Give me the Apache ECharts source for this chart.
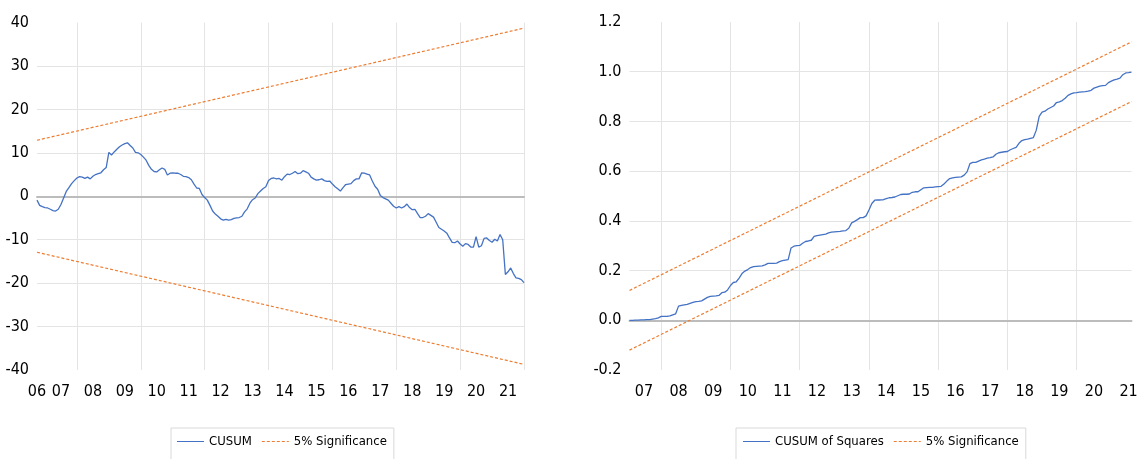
<!DOCTYPE html>
<html><head><meta charset="utf-8">
<script src="https://cdn.jsdelivr.net/npm/echarts@6/dist/echarts.min.js"></script>
<style>html,body{margin:0;padding:0;background:#fff}#c{width:1141px;height:459px}</style>
</head><body><div id="c"></div>
<script>
// ---- data ----
const cusumStart = [2006, 4];   // first month of CUSUM sample
const cusumsqStart = [2006, 8]; // first month of CUSUM of Squares sample
const cusum = [-0.9,-2.1,-2.4,-2.6,-2.7,-3.0,-3.3,-3.4,-3.0,-1.9,-0.4,1.1,2.0,2.9,3.6,4.2,4.5,4.4,4.1,4.4,4.0,4.6,5.0,5.2,5.4,6.1,6.6,10.1,9.5,10.2,10.8,11.4,11.8,12.1,12.3,11.7,11.1,10.1,10.0,9.6,9.0,8.3,7.1,6.2,5.7,5.6,6.1,6.5,6.2,4.9,5.3,5.4,5.3,5.3,5.0,4.6,4.5,4.3,3.8,2.8,1.9,1.8,0.4,-0.3,-0.9,-2.1,-3.4,-4.1,-4.6,-5.2,-5.5,-5.3,-5.5,-5.4,-5.1,-5.0,-4.9,-4.6,-3.6,-2.9,-1.6,-0.8,-0.4,0.6,1.2,1.8,2.2,3.6,4.1,4.2,4.0,4.1,3.7,4.5,5.1,5.0,5.3,5.7,5.2,5.3,5.9,5.6,5.3,4.4,4.0,3.7,3.8,4.0,3.6,3.4,3.5,2.8,2.2,1.7,1.2,2.0,2.7,2.8,2.9,3.6,4.0,4.0,5.4,5.3,5.1,4.9,3.5,2.3,1.6,0.2,-0.3,-0.6,-0.9,-1.6,-2.3,-2.7,-2.4,-2.7,-2.4,-1.8,-2.6,-3.1,-3.0,-4.0,-4.9,-4.9,-4.6,-4.0,-4.4,-4.8,-6.0,-7.2,-7.6,-8.0,-8.5,-9.6,-10.6,-10.7,-10.3,-11.0,-11.5,-10.9,-11.1,-11.7,-11.7,-9.3,-11.7,-11.4,-9.7,-9.6,-10.2,-10.6,-9.9,-10.3,-8.8,-10.0,-18.0,-17.4,-16.5,-17.8,-18.8,-18.9,-19.2,-19.9];
const cusumBound = [12.9, 38.7]; // 5% significance at first and last observation (+/-)
const cusumsq = [0.000,0.000,0.001,0.001,0.002,0.002,0.003,0.003,0.005,0.007,0.010,0.016,0.016,0.016,0.018,0.022,0.026,0.057,0.060,0.062,0.064,0.068,0.072,0.075,0.076,0.078,0.085,0.092,0.096,0.097,0.098,0.100,0.111,0.113,0.122,0.140,0.152,0.155,0.170,0.188,0.198,0.204,0.212,0.216,0.217,0.218,0.219,0.223,0.229,0.229,0.229,0.230,0.236,0.240,0.242,0.244,0.291,0.298,0.300,0.301,0.310,0.317,0.319,0.322,0.338,0.341,0.343,0.345,0.347,0.352,0.355,0.356,0.357,0.358,0.360,0.361,0.370,0.392,0.398,0.405,0.413,0.413,0.420,0.444,0.470,0.483,0.484,0.484,0.485,0.489,0.493,0.494,0.496,0.501,0.506,0.507,0.507,0.508,0.515,0.517,0.517,0.525,0.533,0.534,0.535,0.535,0.537,0.538,0.539,0.548,0.560,0.570,0.573,0.575,0.576,0.577,0.584,0.597,0.630,0.635,0.635,0.640,0.645,0.648,0.652,0.654,0.657,0.668,0.674,0.676,0.678,0.679,0.686,0.691,0.696,0.712,0.723,0.727,0.729,0.732,0.735,0.765,0.820,0.837,0.841,0.850,0.856,0.862,0.876,0.879,0.884,0.893,0.905,0.911,0.915,0.916,0.918,0.919,0.920,0.922,0.925,0.934,0.938,0.942,0.944,0.945,0.956,0.962,0.967,0.970,0.974,0.988,0.995,0.996,0.998];
const sqUpper = [0.12, 1.12];
const sqLower = [-0.12, 0.88];
const leftYTicks = {min: -40, max: 40, interval: 10};
const rightYTicks = {min: -0.2, max: 1.2, interval: 0.2};
const legendLeft = ['CUSUM', '5% Significance'];
const legendRight = ['CUSUM of Squares', '5% Significance'];

// ---- categories (months) ----
function months(start, n) {
  const out = []; let y = start[0], m = start[1];
  for (let i = 0; i < n; i++) {
    out.push(y + '-' + (m < 10 ? '0' + m : m));
    m++; if (m > 12) { m = 1; y++; }
  }
  return out;
}
const catL = months(cusumStart, cusum.length);
const catR = months(cusumsqStart, cusumsq.length);
const yy = v => v.slice(2, 4);
const isJan = v => v.slice(5) === '01';
const isGrid = v => v.slice(5) === '07' && (+v.slice(0, 4)) % 2 === 1;

// ---- font pick (narrow face if present) ----
function hasFont(f) {
  const c = document.createElement('canvas').getContext('2d');
  const s = 'mmmmllliiWW 0123456789';
  c.font = '72px monospace'; const a = c.measureText(s).width;
  c.font = "72px '" + f + "', monospace"; return c.measureText(s).width !== a;
}
let FONT, AX_FS, LG_FS;
if (hasFont('Liberation Sans Narrow')) { FONT = "'Liberation Sans Narrow'"; AX_FS = 18; LG_FS = 15; }
else { FONT = "'DejaVu Sans Condensed','DejaVu Sans',sans-serif"; AX_FS = 16; LG_FS = 13; }

const BLUE = '#4472c4', ORANGE = '#ed7d31', GRID = '#e4e4e4', ZERO = '#bcbcbc';
const ICON_SOLID = 'path://M0,0H27V1H0Z';
const ICON_DASH = 'path://M0,0h3v1h-3z M5,0h3v1h-3z M10,0h3v1h-3z M15,0h3v1h-3z M20,0h3v1h-3z M25,0h2v1h-2z';

function xMain(gi, cats, showFirst) {
  return {
    type: 'category', gridIndex: gi, data: cats, boundaryGap: false,
    axisLine: {show: false, onZero: false}, axisTick: {show: false},
    axisLabel: {
      margin: 14, color: '#000', fontSize: AX_FS, fontFamily: FONT,
      interval: (i, v) => isJan(v) || (showFirst && i === 0),
      formatter: v => yy(v), hideOverlap: false
    },
    splitLine: {show: true, interval: (i, v) => isGrid(v), lineStyle: {color: GRID, width: 1}}
  };
}
function xZero(gi, cats) {
  return {
    type: 'category', gridIndex: gi, data: cats, boundaryGap: false, position: 'top',
    axisLine: {show: true, onZero: true, lineStyle: {color: ZERO, width: 2}},
    axisTick: {show: false}, axisLabel: {show: false}, splitLine: {show: false}
  };
}
function yAx(gi, t, n, fmt) {
  const cols = [];
  for (let i = 0; i < n; i++) cols.push(i === 0 || i === n - 1 ? 'rgba(0,0,0,0)' : GRID);
  return {
    type: 'value', gridIndex: gi, min: t.min, max: t.max, interval: t.interval,
    axisLine: {show: false}, axisTick: {show: false},
    axisLabel: {margin: 8, color: '#000', fontSize: AX_FS, fontFamily: FONT, formatter: fmt},
    splitLine: {show: true, lineStyle: {color: cols, width: 1}}
  };
}
function legendBox(left, names, padLeft) {
  return {
    left: left, top: 428, itemWidth: 27, itemHeight: 1.4, itemGap: 10,
    padding: [7, 7, 16, padLeft], borderColor: '#d9d9d9', borderWidth: 1,
    textStyle: {fontSize: LG_FS, fontFamily: FONT, color: '#000'},
    selectedMode: false,
    data: [
      {name: names[0], icon: ICON_SOLID, itemStyle: {color: BLUE, borderWidth: 0}},
      {name: names[1], icon: ICON_DASH, itemStyle: {color: ORANGE, borderWidth: 0}}
    ]
  };
}
const dash = {color: ORANGE, width: 1.2, type: [3, 2]};
const sigR = legendRight[1] + ' '; // distinct series name for right panel
const option = {
  animation: false,
  grid: [
    {left: 37, top: 22.5, width: 487, height: 347.5},
    {left: 629.5, top: 22, width: 502, height: 348}
  ],
  xAxis: [xMain(0, catL, true), xMain(1, catR, false), xZero(0, catL), xZero(1, catR)],
  yAxis: [
    yAx(0, leftYTicks, 9, v => String(v)),
    yAx(1, rightYTicks, 8, v => v.toFixed(1))
  ],
  legend: [
    legendBox(171, legendLeft, 6),
    Object.assign(legendBox(736, [legendRight[0], sigR], 7), {
      formatter: n => n.trim()
    })
  ],
  series: [
    {name: legendLeft[0], type: 'line', xAxisIndex: 0, yAxisIndex: 0, data: cusum,
     symbol: 'none', lineStyle: {color: BLUE, width: 1.3}, itemStyle: {color: BLUE}, z: 3},
    {name: legendLeft[1], type: 'line', xAxisIndex: 0, yAxisIndex: 0,
     data: [[catL[0], cusumBound[0]], [catL[catL.length - 1], cusumBound[1]]],
     symbol: 'none', lineStyle: dash, itemStyle: {color: ORANGE}},
    {name: legendLeft[1], type: 'line', xAxisIndex: 0, yAxisIndex: 0,
     data: [[catL[0], -cusumBound[0]], [catL[catL.length - 1], -cusumBound[1]]],
     symbol: 'none', lineStyle: dash, itemStyle: {color: ORANGE}},
    {name: legendRight[0], type: 'line', xAxisIndex: 1, yAxisIndex: 1, data: cusumsq,
     symbol: 'none', lineStyle: {color: BLUE, width: 1.3}, itemStyle: {color: BLUE}, z: 3},
    {name: sigR, type: 'line', xAxisIndex: 1, yAxisIndex: 1,
     data: [[catR[0], sqUpper[0]], [catR[catR.length - 1], sqUpper[1]]],
     symbol: 'none', lineStyle: dash, itemStyle: {color: ORANGE}},
    {name: sigR, type: 'line', xAxisIndex: 1, yAxisIndex: 1,
     data: [[catR[0], sqLower[0]], [catR[catR.length - 1], sqLower[1]]],
     symbol: 'none', lineStyle: dash, itemStyle: {color: ORANGE}}
  ]
};
const chart = echarts.init(document.getElementById('c'), null, {renderer: 'canvas'});
chart.setOption(option);
</script></body></html>
